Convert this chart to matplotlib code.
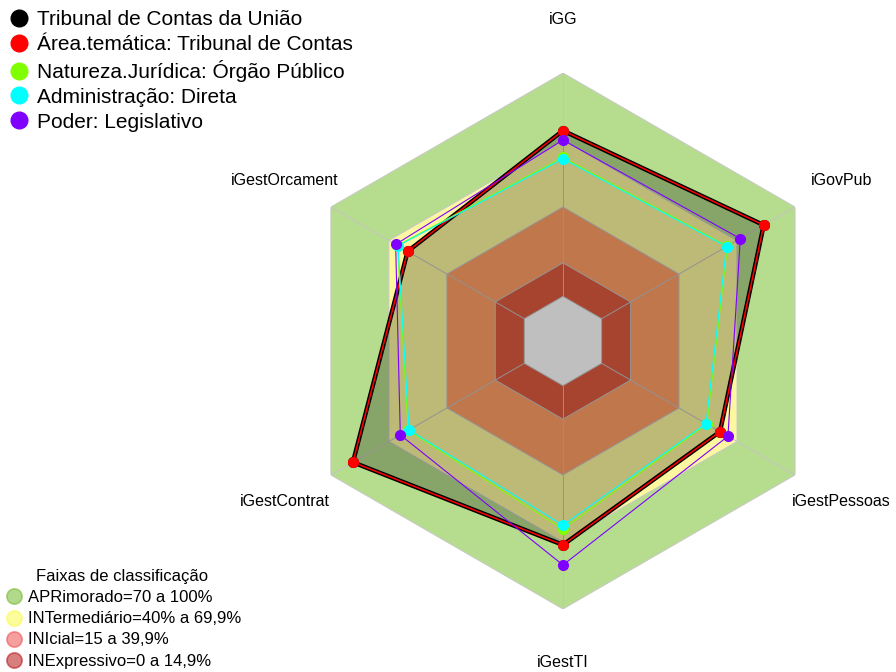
import numpy as np
import matplotlib.pyplot as plt
from matplotlib.lines import Line2D

plt.rcParams['font.family'] = ['Liberation Sans', 'DejaVu Sans']

# =========================
# DADOS
# =========================
eixos = ['iGG', 'iGovPub', 'iGestPessoas', 'iGestTI', 'iGestContrat', 'iGestOrcament']

tcu = [74.2, 83.8, 61.2, 71.3, 88.6, 60.3]
area_tematica = [74.2, 83.8, 61.2, 71.3, 88.6, 60.3]
orgao_publico = [62.2, 65.0, 54.4, 64.2, 60.0, 65.6]
adm_direta = [61.6, 64.6, 54.0, 62.5, 59.6, 65.3]
poder_legislativo = [70.0, 71.7, 65.3, 80.3, 64.1, 66.5]

series_nome = ['Tribunal de Contas da União', 'Área.temática: Tribunal de Contas',
               'Natureza.Jurídica: Órgão Público', 'Administração: Direta', 'Poder: Legislativo']
series_cor = ['black', '#ff0000', '#80ff00', '#00ffff', '#8000ff']

faixas_lim = [100, 70, 40, 15, 0]
faixas_cor = ['#b6dd8d', '#fdf8a0', '#ffa065', '#e05b40', '#ffffff']
faixas_nome = ['APRimorado=70 a 100%', 'INTermediário=40% a 69,9%',
               'INIcial=15 a 39,9%', 'INExpressivo=0 a 14,9%']
faixas_leg_cor = ['#67b319', '#fbfb39', '#ef4141', '#b10101']

# =========================
# FIGURA
# =========================
fig = plt.figure(figsize=(8.96, 6.72), dpi=100)
ax = fig.add_axes([0.3292, 0.09375, 0.5982, 0.7976], projection='polar')
ax.set_theta_zero_location('N')
ax.set_theta_direction(-1)
ax.set_ylim(-20, 100)
ax.grid(False)
ax.set_xticks([])
ax.set_yticks([])
ax.spines['polar'].set_visible(False)
ax.patch.set_visible(False)

theta = np.arange(len(eixos)) * 2 * np.pi / len(eixos)
theta_c = np.append(theta, theta[0])


def fechar(v):
    return np.append(v, v[0])


# faixas de classificacao (hexagonos)
for lim, cor in zip(faixas_lim[:-1], faixas_cor[:-1]):
    ax.fill(theta_c, [lim] * 7, color=cor, lw=0, zorder=1)

for t in theta:
    ax.plot([t, t], [0, 100], color='#c4c4c4', lw=0.7, zorder=2)

ax.fill(theta_c, [0] * 7, color=faixas_cor[-1], lw=0, zorder=2)
for lim in faixas_lim:
    ax.plot(theta_c, [lim] * 7, color='#c8c8c8', lw=0.7, zorder=2)

# area do TCU
ax.fill(theta_c, fechar(tcu), color='black', alpha=0.25, lw=0, zorder=3)

valores = [tcu, area_tematica, orgao_publico, adm_direta, poder_legislativo]
larguras = [3.2, 1.1, 0.8, 0.8, 0.8]
for i, (v, cor, lw) in enumerate(zip(valores, series_cor, larguras)):
    ax.plot(theta_c, fechar(v), color=cor, lw=lw, zorder=4 + i)
    ax.plot(theta, v, 'o', color=cor, ms=7, zorder=10 + i)

for t, nome in zip(theta, eixos):
    ax.text(t, 124, nome, ha='center', va='center', fontsize=11.5, clip_on=False)

# =========================
# LEGENDAS
# =========================
h1 = [Line2D([], [], marker='o', ls='None', color=c, ms=12) for c in series_cor]
leg1 = fig.legend(h1, series_nome, loc='upper left', bbox_to_anchor=(0.0, 1.0),
                  frameon=False, fontsize=15, handlelength=0.8, handletextpad=0.5,
                  labelspacing=0.28, borderaxespad=0.0, borderpad=0.49)

h2 = [Line2D([], [], marker='o', ls='None', color=c, alpha=0.5, ms=11, mew=1.2)
      for c in faixas_leg_cor]
leg2 = fig.legend(h2, faixas_nome, loc='lower left', bbox_to_anchor=(0.0, 0.0),
                  frameon=False, fontsize=12, title='Faixas de classificação',
                  title_fontsize=12, handlelength=1.28, handletextpad=0.2,
                  labelspacing=0.37, borderaxespad=0.0, borderpad=0.2)

fig.savefig('out.png', dpi=100)
